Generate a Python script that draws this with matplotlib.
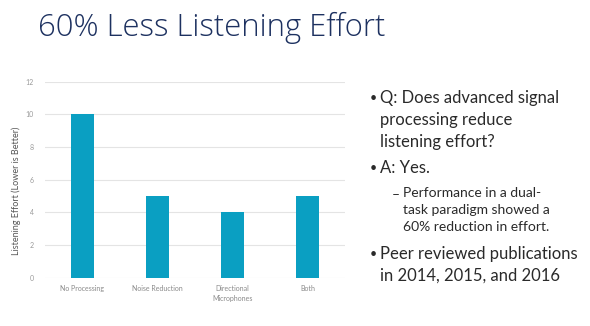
import matplotlib.pyplot as plt

categories = ['No Processing', 'Noise Reduction', 'Directional\nMicrophones', 'Both']
effort = [10, 5, 4, 5]
yticks = [0, 2, 4, 6, 8, 10, 12]

title = '60% Less Listening Effort'
bullets = [
    ('•', 'Q: Does advanced signal\nprocessing reduce\nlistening effort?'),
    ('•', 'A: Yes.'),
    ('–', 'Performance in a dual-\ntask paradigm showed a\n60% reduction in effort.'),
    ('•', 'Peer reviewed publications\nin 2014, 2015, and 2016'),
]

plt.rcParams['font.family'] = ['Lato', 'DejaVu Sans']

fig = plt.figure(figsize=(5.9, 3.26), dpi=100)
fig.patch.set_facecolor('white')

ax = fig.add_axes([45 / 590, 48.3 / 326, 300 / 590, 196 / 326])
x = range(len(categories))
ax.bar(x, effort, width=0.315, color='#0a9fc2', zorder=3)
ax.set_xlim(-0.5, 3.5)
ax.set_ylim(0, 12)
ax.set_yticks(yticks)
ax.set_yticklabels([str(t) for t in yticks], fontsize=5, color='#9a9a9a')
ax.set_xticks(list(x))
ax.set_xticklabels(categories, fontsize=5, color='#8a8a8a', linespacing=1.6)
ax.tick_params(axis='both', length=0, pad=8)
ax.tick_params(axis='x', pad=5)
ax.grid(axis='y', color='#e4e4e4', linewidth=0.8, zorder=0)
for s in ax.spines.values():
    s.set_visible(False)

fig.text(16 / 590, 1 - 191 / 326, 'Listening Effort (Lower is Better)', rotation=90,
         fontsize=6.5, color='#555555', ha='center', va='center')

fig.text(38 / 590, 1 - 28 / 326, title, fontsize=22.3, color='#1d3160',
         ha='left', va='center', family=['Open Sans', 'DejaVu Sans'],
         fontweight='light')

# right-hand bullet text: (index, y of first line centre, font size, line spacing)
rows = [(0, 98, 12, 1.45), (1, 168, 12, 1.45), (2, 195, 10, 1.5), (3, 254, 12, 1.4)]
for (i, yc, fs, ls) in rows:
    mark, txt = bullets[i]
    if mark == '–':
        bx, tx, ms = 392, 403, fs
    else:
        bx, tx, ms = 370, 380, fs * 0.75
    fig.text(bx / 590, 1 - yc / 326, mark, fontsize=ms, color='#2a2a2a',
             ha='left', va='center')
    fig.text(tx / 590, 1 - (yc - 8) / 326, txt, fontsize=fs,
             color='#2a2a2a', ha='left', va='top', linespacing=ls)

fig.savefig('out.png', dpi=100)
